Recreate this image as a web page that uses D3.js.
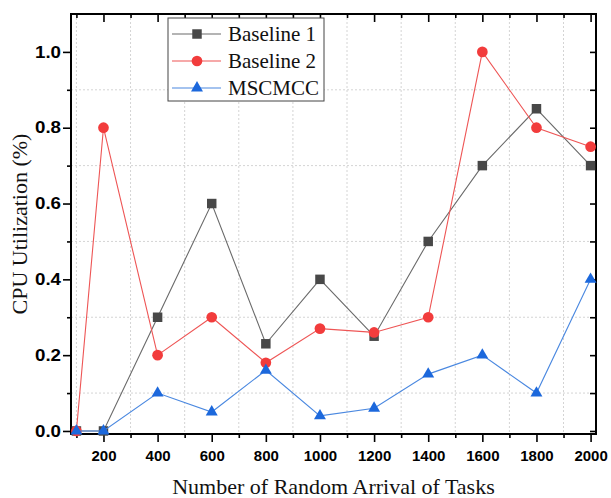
<!DOCTYPE html>
<html>
<head>
<meta charset="utf-8">
<script src="https://cdn.jsdelivr.net/npm/d3@7"></script>
<style>
  html, body { margin: 0; padding: 0; background: #fff; }
  svg { display: block; }
</style>
</head>
<body>
<div id="chart"></div>
<script>
// data
const tasks = [100, 200, 400, 600, 800, 1000, 1200, 1400, 1600, 1800, 2000];
const baseline1 = [0, 0, 0.3, 0.6, 0.23, 0.4, 0.25, 0.5, 0.7, 0.85, 0.7];
const baseline2 = [0, 0.8, 0.2, 0.3, 0.18, 0.27, 0.26, 0.3, 1.0, 0.8, 0.75];
const mscmcc = [0, 0, 0.1, 0.05, 0.16, 0.04, 0.06, 0.15, 0.2, 0.1, 0.4];
const seriesNames = ['Baseline 1', 'Baseline 2', 'MSCMCC'];
const xTicks = [200, 400, 600, 800, 1000, 1200, 1400, 1600, 1800, 2000];
const xMinor = [100, 300, 500, 700, 900, 1100, 1300, 1500, 1700, 1900];
const yTicks = [0, 0.2, 0.4, 0.6, 0.8, 1.0];
const yMinor = [0.1, 0.3, 0.5, 0.7, 0.9];

const W = 611, H = 498;
const plot = { left: 71, right: 596, top: 14, bottom: 434 };

const svg = d3
  .select('#chart')
  .append('svg')
  .attr('width', W)
  .attr('height', H);

svg.append('rect').attr('width', W).attr('height', H).attr('fill', '#fff');

const x = d3.scaleLinear().domain([80, 2020]).range([plot.left, plot.right]);
const y = d3.scaleLinear().domain([-0.008, 1.1]).range([plot.bottom, plot.top]);

// dotted grid at the minor positions
const grid = svg.append('g').attr('stroke', '#d4d4d4').attr('stroke-width', 1).attr('stroke-dasharray', '2,2');
grid
  .selectAll('line.gx')
  .data(xMinor)
  .enter()
  .append('line')
  .attr('x1', (d) => x(d))
  .attr('x2', (d) => x(d))
  .attr('y1', plot.top)
  .attr('y2', plot.bottom);
grid
  .selectAll('line.gy')
  .data(yMinor)
  .enter()
  .append('line')
  .attr('x1', plot.left)
  .attr('x2', plot.right)
  .attr('y1', (d) => y(d))
  .attr('y2', (d) => y(d));

// axes
const fmt = d3.format('.1f');
function styleAxis(g) {
  g.select('.domain').remove();
  g.selectAll('.tick line').attr('stroke', '#000').attr('stroke-width', 1.6);
  g.selectAll('text')
    .attr('fill', '#000')
    .style('font-family', '"Liberation Sans", Arial, sans-serif')
    .style('font-weight', 'bold')
    .style('font-size', '15px');
}

// bottom
svg
  .append('g')
  .attr('transform', `translate(0, ${plot.bottom})`)
  .call(d3.axisBottom(x).tickValues(xTicks).tickSize(8).tickPadding(8).tickFormat(d3.format('d')))
  .call(styleAxis);
svg
  .append('g')
  .attr('transform', `translate(0, ${plot.bottom})`)
  .call(d3.axisBottom(x).tickValues(xMinor).tickSize(4).tickFormat(''))
  .call(styleAxis);

// top (ticks pointing inside)
svg
  .append('g')
  .attr('transform', `translate(0, ${plot.top})`)
  .call(d3.axisBottom(x).tickValues(xTicks).tickSize(8).tickFormat(''))
  .call(styleAxis);
svg
  .append('g')
  .attr('transform', `translate(0, ${plot.top})`)
  .call(d3.axisBottom(x).tickValues(xMinor).tickSize(4).tickFormat(''))
  .call(styleAxis);

// left
svg
  .append('g')
  .attr('transform', `translate(${plot.left}, 0)`)
  .call(d3.axisLeft(y).tickValues(yTicks).tickSize(8).tickPadding(2).tickFormat(fmt))
  .call(styleAxis)
  .call((g) =>
    g.selectAll('text').style('font-size', '16px').attr('textLength', 26).attr('lengthAdjust', 'spacingAndGlyphs')
  );
svg
  .append('g')
  .attr('transform', `translate(${plot.left}, 0)`)
  .call(d3.axisLeft(y).tickValues(yMinor).tickSize(4).tickFormat(''))
  .call(styleAxis);

// right (ticks pointing inside)
svg
  .append('g')
  .attr('transform', `translate(${plot.right}, 0)`)
  .call(d3.axisLeft(y).tickValues(yTicks.concat(yMinor)).tickSize(6).tickFormat(''))
  .call(styleAxis);

// frame
svg
  .append('rect')
  .attr('x', plot.left)
  .attr('y', plot.top)
  .attr('width', plot.right - plot.left)
  .attr('height', plot.bottom - plot.top)
  .attr('fill', 'none')
  .attr('stroke', '#000')
  .attr('stroke-width', 2);

// axis titles
svg
  .append('text')
  .attr('x', (plot.left + plot.right) / 2)
  .attr('y', 494)
  .attr('text-anchor', 'middle')
  .style('font-family', '"Liberation Serif", "Times New Roman", serif')
  .style('font-size', '22px')
  .attr('fill', '#111')
  .text('Number of Random Arrival of Tasks');

svg
  .append('text')
  .attr('transform', `translate(27, ${(plot.top + plot.bottom) / 2}) rotate(-90)`)
  .attr('text-anchor', 'middle')
  .style('font-family', '"Liberation Serif", "Times New Roman", serif')
  .style('font-size', '22px')
  .attr('fill', '#111')
  .text('CPU Utilization (%)');

// series
const series = [
  { name: seriesNames[0], values: baseline1, line: '#6a6a6a', fill: '#484848', symbol: d3.symbolSquare, size: 90 },
  { name: seriesNames[1], values: baseline2, line: '#ee5555', fill: '#f23c3c', symbol: d3.symbolCircle, size: 90 },
  { name: seriesNames[2], values: mscmcc, line: '#4a88e0', fill: '#1c68dc', symbol: d3.symbolTriangle, size: 62 },
];

const lineGen = d3
  .line()
  .x((d) => x(d.t))
  .y((d) => y(d.v));

series.forEach((s) => {
  const pts = tasks.map((t, i) => ({ t: t, v: s.values[i] }));
  const g = svg.append('g');
  g.append('path')
    .datum(pts)
    .attr('fill', 'none')
    .attr('stroke', s.line)
    .attr('stroke-width', 1.1)
    .attr('d', lineGen);
  g.selectAll('path.pt')
    .data(pts)
    .enter()
    .append('path')
    .attr('class', 'pt')
    .attr('transform', (d) => `translate(${x(d.t)}, ${y(d.v)})`)
    .attr('fill', s.fill)
    .attr('d', d3.symbol().type(s.symbol).size(s.size));
});

// legend
const legend = svg.append('g').attr('transform', 'translate(168, 18)');
legend
  .append('rect')
  .attr('width', 156)
  .attr('height', 83)
  .attr('fill', '#fff')
  .attr('stroke', '#444')
  .attr('stroke-width', 1);

series.forEach((s, i) => {
  const row = legend.append('g').attr('transform', `translate(0, ${16 + i * 27})`);
  row
    .append('line')
    .attr('x1', 4)
    .attr('x2', 53)
    .attr('stroke', s.line)
    .attr('stroke-width', 1.1);
  row
    .append('path')
    .attr('transform', 'translate(29, 0)')
    .attr('fill', s.fill)
    .attr('d', d3.symbol().type(s.symbol).size(s.size));
  row
    .append('text')
    .attr('x', 60)
    .attr('y', 0)
    .attr('dy', '0.35em')
    .style('font-family', '"Liberation Serif", "Times New Roman", serif')
    .style('font-size', '21px')
    .attr('fill', '#111')
    .text(s.name);
});
</script>
</body>
</html>
